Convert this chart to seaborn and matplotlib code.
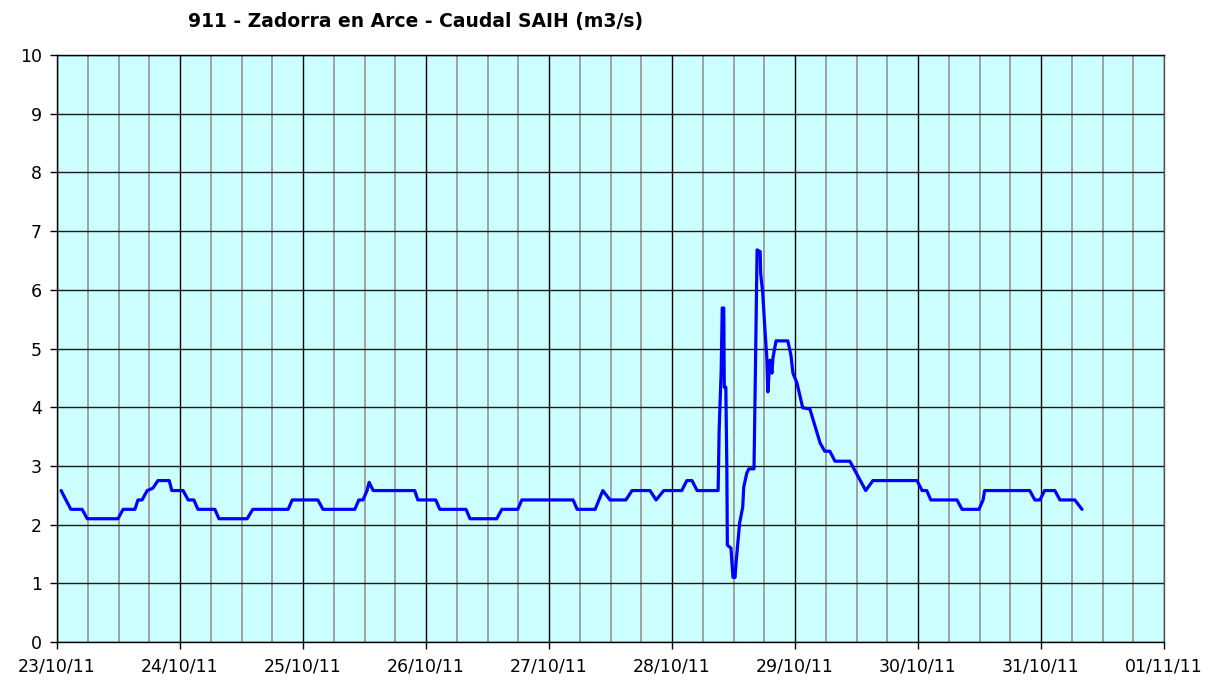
import pandas as pd
import seaborn as sns
import matplotlib
matplotlib.use("Agg")
from matplotlib import pyplot as plt
import matplotlib.dates as mdates

# horas desde 23/10/11 00:00 y caudal (m3/s)
horas = [0.8, 2.7, 4.9, 5.9, 11.9, 12.9, 15.2, 15.8, 16.6, 17.6, 18.7, 19.7,
         21.9, 22.4, 24.6, 25.6, 26.7, 27.5, 30.8, 31.6, 37.1, 38.2, 45.1, 45.9,
         50.9, 51.9, 58.1, 58.9, 59.7, 60.5, 60.9, 61.7, 69.8, 70.4, 73.9, 74.7,
         79.8, 80.6, 85.8, 86.8, 89.9, 90.7, 100.7, 101.5, 105.0, 106.5, 107.9,
         111.0, 112.2, 115.7, 116.9, 118.4, 121.9, 122.9, 123.9, 124.9, 129.0,
         129.2, 129.6, 129.8, 130.1, 130.2, 130.5, 130.7, 130.8, 131.5, 131.9,
         132.3, 132.5, 132.9, 133.2, 133.8, 134.0, 134.6, 135.0, 136.0, 136.2,
         136.4, 136.6, 137.2, 137.3, 137.7, 138.1, 138.5, 138.7, 139.1, 139.5,
         139.7, 140.3, 142.6, 143.2, 143.6, 144.4, 145.5, 146.9, 148.9, 149.8,
         150.8, 151.8, 154.7, 157.8, 159.2, 167.8, 168.8, 169.7, 170.5, 175.6,
         176.6, 179.9, 180.7, 181.0, 189.8, 190.8, 191.8, 192.7, 194.7, 195.7,
         198.6, 200.0]
caudal = [2.58, 2.26, 2.26, 2.10, 2.10, 2.26, 2.26, 2.42, 2.42, 2.58, 2.62, 2.75,
          2.75, 2.58, 2.58, 2.42, 2.42, 2.26, 2.26, 2.10, 2.10, 2.26, 2.26, 2.42,
          2.42, 2.26, 2.26, 2.42, 2.42, 2.58, 2.72, 2.58, 2.58, 2.42, 2.42, 2.26,
          2.26, 2.10, 2.10, 2.26, 2.26, 2.42, 2.42, 2.26, 2.26, 2.58, 2.42,
          2.42, 2.58, 2.58, 2.42, 2.58, 2.58, 2.75, 2.75, 2.58, 2.58,
          3.61, 4.63, 5.69, 5.69, 4.34, 4.34, 2.98, 1.65, 1.60, 1.10,
          1.10, 1.35, 1.74, 2.03, 2.30, 2.64, 2.88, 2.95, 2.95, 4.16,
          5.40, 6.68, 6.65, 6.28, 5.95, 5.37, 4.84, 4.26, 4.80, 4.58,
          4.84, 5.13, 5.13, 4.89, 4.58, 4.41, 3.99, 3.97, 3.39, 3.25,
          3.25, 3.08, 3.08, 2.58, 2.75, 2.75, 2.58, 2.58, 2.42, 2.42,
          2.26, 2.26, 2.42, 2.58, 2.58, 2.42, 2.42, 2.58, 2.58, 2.42,
          2.42, 2.26]

inicio = pd.Timestamp("2011-10-23 00:00")
datos = pd.DataFrame({
    "fecha": inicio + pd.to_timedelta(horas, unit="h"),
    "caudal": caudal,
})

sns.set_style("white")
plt.rcParams["font.family"] = ["DejaVu Sans"]

fig = plt.figure(figsize=(12.21, 6.82), dpi=100)
ax = fig.add_axes([57 / 1221, 40 / 682, 1107 / 1221, 587 / 682])
ax.set_facecolor("#CCFFFF")

sns.lineplot(x="fecha", y="caudal", data=datos, color="#0000FF", linewidth=2.3, ax=ax)

ax.set_xlim(inicio, pd.Timestamp("2011-11-01 00:00"))
ax.set_ylim(0, 10)
ax.set_yticks(range(0, 11))
ax.xaxis.set_major_locator(mdates.DayLocator())
ax.xaxis.set_major_formatter(mdates.DateFormatter("%d/%m/%y"))
ax.xaxis.set_minor_locator(mdates.HourLocator(byhour=[6, 12, 18]))

# rejilla: gris cada 6 horas, negra en dias y unidades
ax.set_axisbelow(True)
ax.grid(which="minor", axis="x", color="#A0A0A0", linewidth=1.4)
ax.grid(which="major", axis="x", color="black", linewidth=1.0)
ax.grid(which="major", axis="y", color="#1a1a1a", linewidth=1.0)

ax.tick_params(axis="both", which="major", direction="out", length=5, width=1,
               color="black", labelsize=12.5, labelcolor="black", bottom=True, left=True)
ax.tick_params(axis="x", which="minor", length=0)
ax.tick_params(axis="x", pad=6)
ax.tick_params(axis="y", pad=6)

for lado in ["left", "bottom", "top"]:
    ax.spines[lado].set_color("black")
    ax.spines[lado].set_linewidth(1.0)
ax.spines["right"].set_color("#555555")
ax.spines["right"].set_linewidth(1.0)

ax.set_xlabel("")
ax.set_ylabel("")

fig.text(416 / 1221, 1 - 22 / 682, "911 - Zadorra en Arce - Caudal SAIH (m3/s)",
         ha="center", va="center", fontsize=13.5, fontweight="bold", color="black")

fig.savefig("out.png", dpi=100)
